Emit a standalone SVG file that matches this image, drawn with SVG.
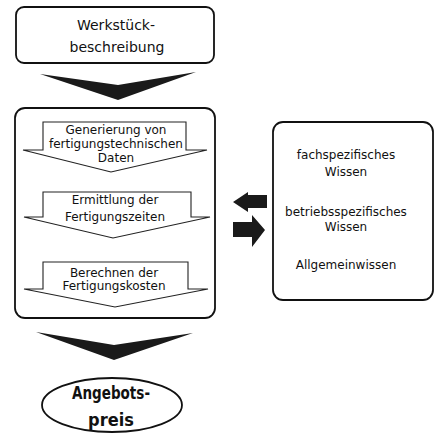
<svg xmlns="http://www.w3.org/2000/svg" width="438" height="434" viewBox="0 0 438 434">
<style>
.box{fill:none;stroke:#111;stroke-width:1.8}
.sub{fill:none;stroke:#222;stroke-width:1.1;stroke-linejoin:miter}
.big{fill:#1a1a1a}
.t{font-family:"DejaVu Sans","Liberation Sans",sans-serif;font-size:12px;fill:#111;text-anchor:middle}
.tl{font-family:"DejaVu Sans","Liberation Sans",sans-serif;font-size:14px;fill:#111;text-anchor:middle}
.tb{font-family:"Liberation Sans Narrow","DejaVu Sans Condensed","Liberation Sans",sans-serif;font-weight:bold;font-size:18px;fill:#111;text-anchor:middle}
</style>
<rect width="438" height="434" fill="#fff"/>
<g id="werkstueck">
<rect class="box" x="16" y="7" width="198" height="56" rx="8"/>
<text class="tl" x="116" y="30">Werkstück-</text>
<text class="tl" x="117" y="52">beschreibung</text>
</g>
<g id="verarbeitung">
<rect class="box" x="15" y="108" width="200" height="210" rx="10"/>
</g>
<g id="generierung">
<path class="sub" d="M23,150 L43,150 L43,122 L186,122 L186,150 L207,150 L111,172 Z"/>
<text class="t" x="116" y="134">Generierung von</text>
<text class="t" x="116" y="148">fertigungstechnischen</text>
<text class="t" x="116" y="162">Daten</text>
</g>
<g id="ermittlung">
<path class="sub" d="M24,217 L43,217 L43,192 L191,192 L191,217 L210,217 L113,238 Z"/>
<text class="t" x="115" y="204">Ermittlung der</text>
<text class="t" x="115" y="221">Fertigungszeiten</text>
</g>
<g id="berechnen">
<path class="sub" d="M24,289 L43,289 L43,262 L188,262 L188,289 L208,289 L115,307 Z"/>
<text class="t" x="114" y="277">Berechnen der</text>
<text class="t" x="114" y="290">Fertigungskosten</text>
</g>
<g id="wissen">
<rect class="box" x="273" y="122" width="160" height="178" rx="10"/>
<text class="t" x="346" y="159">fachspezifisches</text>
<text class="t" x="346" y="176">Wissen</text>
<text class="t" x="346" y="216">betriebsspezifisches</text>
<text class="t" x="346" y="231">Wissen</text>
<text class="t" x="346" y="269">Allgemeinwissen</text>
</g>
<g id="angebotspreis">
<ellipse class="box" cx="112" cy="405" rx="70" ry="27"/>
<text class="tb" x="111" y="399" textLength="78" lengthAdjust="spacingAndGlyphs">Angebots-</text>
<text class="tb" x="111" y="426">preis</text>
</g>
<g id="connectors">
<path class="big" d="M40,74 L118,85 L196,72 L118,100 Z"/>
<path class="big" d="M36,332 L114,345 L193,333 L114,360 Z"/>
<path class="big" d="M233,202 L248,192 L248,195 L267,195 L267,208 L248,208 L248,212 Z"/>
<path class="big" d="M233,222 L252,222 L252,215 L265,230 L252,247 L252,237 L233,237 Z"/>
</g>
</svg>
